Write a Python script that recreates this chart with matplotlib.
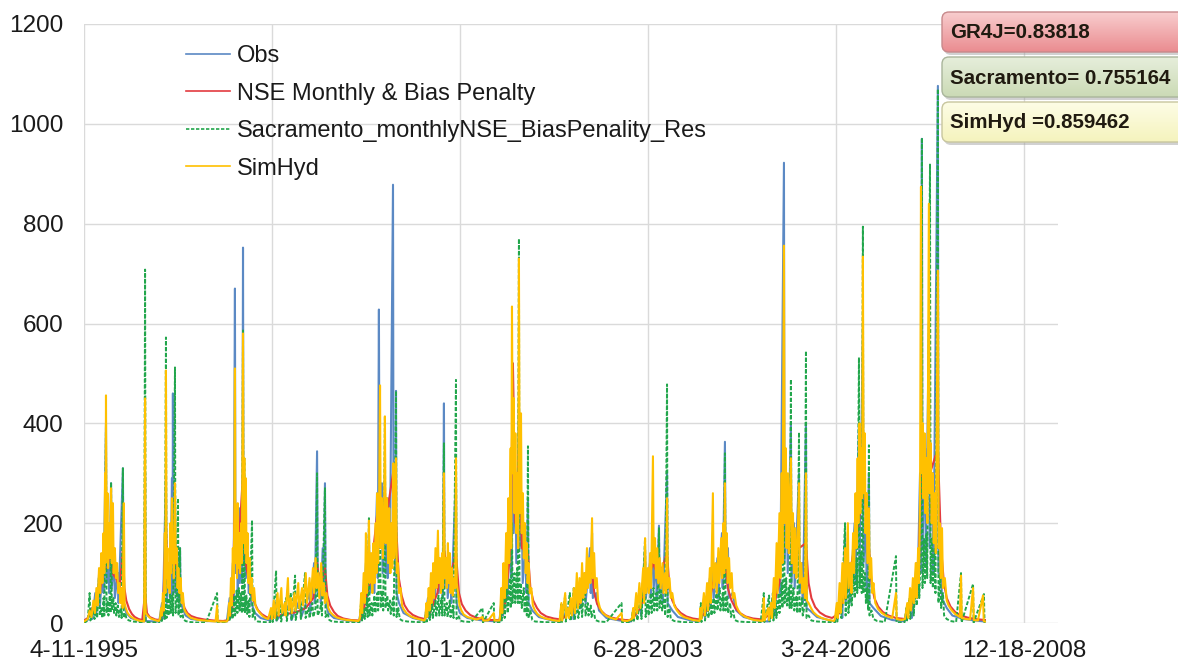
import numpy as np
import matplotlib
matplotlib.use("Agg")
import matplotlib.pyplot as plt
from matplotlib.patches import FancyBboxPatch
from matplotlib.colors import to_rgb

# ---------------------------------------------------------------------------
# Daily streamflow, days counted from 4-11-1995 (value nodes per series)
# ---------------------------------------------------------------------------
x_tick_days = [0, 1000, 2000, 3000, 4000, 5000]
x_tick_labels = ["4-11-1995", "1-5-1998", "10-1-2000", "6-28-2003", "3-24-2006", "12-18-2008"]
y_ticks = [0, 200, 400, 600, 800, 1000, 1200]

series_names = ["Obs", "NSE Monthly & Bias Penalty",
                "Sacramento_monthlyNSE_BiasPenality_Res", "SimHyd"]

nse_scores = ["GR4J=0.83818", "Sacramento= 0.755164", "SimHyd =0.859462"]

obs = [
    (0, 2), (20, 6), (40, 30), (44, 8), (60, 60), (64, 15), (80, 95), (84, 30), (100, 120), (104, 60),
    (117, 400), (120, 80), (130, 120), (134, 60), (144, 280), (148, 70), (160, 130), (164, 50),
    (180, 100), (184, 40), (207, 310), (211, 40), (225, 20), (250, 10), (290, 5), (320, 3),
    (325, 300), (328, 4), (380, 3), (400, 3),
    (415, 40), (419, 8), (436, 300), (440, 40), (456, 120), (460, 50), (468, 290), (471, 60),
    (473, 460), (476, 80), (484, 260), (487, 60), (496, 150), (500, 50), (511, 150), (514, 40),
    (525, 30), (540, 15), (570, 8), (650, 4), (760, 3),
    (775, 50), (779, 10), (792, 120), (796, 40), (803, 670), (806, 100), (814, 180), (818, 60),
    (825, 230), (829, 80), (838, 200), (842, 80), (846, 752), (849, 120), (857, 250), (861, 90),
    (872, 140), (876, 60), (886, 100), (890, 40), (910, 20), (940, 10), (990, 5),
    (1020, 40), (1024, 5), (1100, 40), (1104, 6), (1150, 50), (1154, 10), (1200, 60), (1204, 20),
    (1224, 120), (1228, 40), (1240, 344), (1244, 60), (1256, 100), (1260, 40), (1270, 150),
    (1274, 50), (1282, 280), (1286, 40), (1300, 20), (1330, 10), (1400, 5), (1465, 3),
    (1480, 50), (1484, 10), (1500, 120), (1504, 40), (1516, 180), (1520, 60), (1540, 150),
    (1544, 60), (1559, 260), (1563, 90), (1569, 628), (1573, 150), (1585, 280), (1589, 100),
    (1601, 300), (1605, 100), (1612, 250), (1616, 90), (1623, 250), (1627, 100), (1644, 878),
    (1647, 150), (1652, 300), (1656, 100), (1660, 465), (1663, 60), (1676, 40), (1700, 20),
    (1750, 10), (1812, 4),
    (1830, 50), (1834, 10), (1860, 100), (1864, 40), (1883, 150), (1887, 60), (1905, 120),
    (1909, 50), (1915, 440), (1918, 70), (1931, 130), (1935, 50), (1950, 110), (1954, 40),
    (1979, 300), (1982, 40), (2000, 20), (2040, 10), (2120, 5), (2210, 3),
    (2225, 60), (2229, 15), (2250, 150), (2254, 50), (2270, 250), (2274, 90), (2282, 520),
    (2286, 180), (2296, 300), (2300, 120), (2314, 450), (2318, 150), (2330, 200), (2334, 80),
    (2350, 150), (2354, 60), (2362, 250), (2365, 40), (2385, 25), (2420, 12), (2480, 6), (2532, 3),
    (2600, 40), (2604, 8), (2640, 80), (2644, 30), (2665, 100), (2669, 40), (2692, 150),
    (2696, 60), (2703, 180), (2707, 50), (2725, 60), (2740, 25), (2780, 10), (2850, 5), (2910, 3),
    (2960, 60), (2964, 15), (2985, 150), (2989, 50), (3011, 120), (3015, 50), (3027, 200),
    (3031, 70), (3043, 130), (3047, 50), (3059, 195), (3063, 60), (3075, 110), (3079, 40),
    (3102, 300), (3105, 40), (3130, 25), (3160, 12), (3220, 6), (3275, 3),
    (3300, 40), (3304, 10), (3330, 90), (3334, 30), (3346, 150), (3350, 50), (3370, 130),
    (3374, 50), (3394, 180), (3398, 70), (3410, 363), (3414, 80), (3426, 150), (3430, 50),
    (3450, 60), (3470, 25), (3510, 12), (3580, 5), (3640, 3),
    (3670, 60), (3674, 15), (3700, 180), (3704, 60), (3724, 922), (3727, 120), (3740, 250),
    (3744, 100), (3761, 400), (3764, 80), (3777, 200), (3781, 70), (3804, 300), (3807, 60),
    (3820, 120), (3824, 40), (3841, 400), (3844, 30), (3862, 25), (3900, 12), (3960, 6), (3995, 3),
    (4030, 50), (4034, 10), (4049, 180), (4052, 40), (4070, 120), (4074, 40), (4100, 200),
    (4104, 80), (4123, 400), (4126, 100), (4144, 600), (4147, 120), (4160, 200), (4164, 70),
    (4176, 300), (4179, 40), (4200, 30), (4240, 14), (4300, 6), (4365, 3),
    (4400, 40), (4404, 10), (4430, 120), (4434, 50), (4448, 300), (4452, 100), (4458, 970),
    (4461, 150), (4475, 350), (4479, 120), (4495, 600), (4499, 150), (4515, 300), (4519, 100),
    (4543, 1076), (4546, 100), (4560, 150), (4564, 50), (4590, 30), (4620, 15), (4680, 8),
    (4740, 5), (4793, 3),
]

gr4j = [
    (0, 5), (20, 10), (40, 25), (60, 40), (80, 60), (100, 90), (117, 180), (125, 110), (144, 160),
    (150, 100), (170, 90), (190, 70), (207, 150), (215, 70), (225, 45), (240, 28), (255, 18),
    (270, 12), (290, 8), (310, 6), (325, 60), (335, 20), (350, 12), (380, 7), (405, 6), (420, 20),
    (436, 200), (445, 80), (473, 180), (484, 160), (495, 90), (511, 80), (520, 50), (535, 30),
    (550, 20), (570, 14), (600, 10), (640, 7), (690, 5), (740, 4), (770, 6), (790, 30), (803, 250),
    (815, 100), (846, 300), (860, 120), (880, 80), (895, 55), (910, 38), (925, 26), (945, 18),
    (970, 12), (990, 10), (1030, 14), (1080, 18), (1130, 22), (1180, 30), (1220, 50), (1240, 120),
    (1255, 70), (1282, 110), (1295, 55), (1310, 35), (1330, 22), (1350, 14), (1380, 9), (1420, 6),
    (1465, 5), (1490, 30), (1520, 80), (1569, 250), (1585, 150), (1644, 300), (1660, 200),
    (1675, 90), (1690, 55), (1705, 36), (1725, 24), (1750, 16), (1780, 11), (1812, 8), (1840, 20),
    (1880, 60), (1915, 150), (1940, 80), (1979, 140), (1995, 60), (2010, 38), (2030, 25),
    (2055, 16), (2085, 11), (2120, 8), (2160, 6), (2213, 6), (2240, 40), (2270, 150), (2282, 520),
    (2295, 200), (2314, 350), (2330, 150), (2362, 140), (2375, 70), (2390, 45), (2410, 30),
    (2430, 20), (2460, 13), (2500, 9), (2540, 7), (2580, 20), (2640, 40), (2703, 100), (2715, 60),
    (2730, 38), (2750, 25), (2775, 16), (2805, 11), (2840, 8), (2880, 6), (2915, 6), (2960, 30),
    (3027, 120), (3060, 90), (3102, 140), (3115, 70), (3130, 45), (3150, 30), (3175, 20),
    (3205, 13), (3240, 9), (3277, 7), (3320, 30), (3346, 80), (3410, 130), (3425, 70), (3445, 45),
    (3465, 30), (3490, 20), (3520, 13), (3560, 9), (3610, 7), (3660, 20), (3700, 80), (3724, 300),
    (3761, 200), (3804, 150), (3841, 160), (3855, 80), (3870, 50), (3890, 32), (3915, 21),
    (3945, 14), (3980, 10), (4020, 20), (4064, 80), (4123, 200), (4144, 300), (4176, 150),
    (4190, 80), (4205, 50), (4225, 33), (4250, 22), (4280, 15), (4320, 10), (4368, 8), (4400, 30),
    (4440, 100), (4458, 350), (4501, 300), (4543, 350), (4560, 150), (4575, 80), (4590, 50),
    (4610, 33), (4635, 22), (4665, 15), (4700, 11), (4740, 8), (4793, 6),
]

sacramento = [
    (0, 0), (20, 5), (30, 60), (34, 5), (50, 25), (56, 8), (66, 40), (70, 10), (80, 100), (84, 15),
    (92, 30), (98, 10), (104, 50), (108, 15), (117, 400), (120, 20), (126, 45), (130, 15),
    (137, 55), (141, 20), (144, 280), (148, 25), (156, 50), (160, 20), (168, 40), (172, 15),
    (180, 35), (186, 12), (196, 30), (200, 10), (207, 310), (211, 10), (220, 20), (226, 8),
    (240, 5), (260, 3), (290, 2), (320, 1), (325, 708), (328, 2), (360, 1), (400, 1),
    (410, 20), (414, 4), (425, 40), (430, 8), (436, 572), (439, 10), (446, 50), (450, 15),
    (458, 60), (462, 20), (470, 55), (474, 15), (484, 512), (487, 20), (494, 45), (500, 250),
    (503, 15), (511, 150), (514, 12), (522, 30), (528, 8), (540, 4), (560, 2), (600, 1), (650, 1),
    (708, 60), (711, 1), (760, 1),
    (770, 20), (774, 4), (786, 40), (790, 8), (800, 55), (804, 15), (812, 65), (816, 20), (824, 70),
    (828, 25), (836, 60), (840, 20), (846, 586), (849, 25), (853, 330), (856, 20), (864, 55),
    (868, 18), (876, 45), (880, 12), (894, 206), (897, 10), (905, 25), (912, 6), (925, 3),
    (950, 2), (990, 1),
    (1000, 30), (1004, 2), (1022, 105), (1025, 3), (1045, 40), (1049, 3), (1075, 50), (1079, 4),
    (1100, 60), (1104, 5), (1123, 95), (1126, 6), (1150, 45), (1154, 8), (1176, 100), (1179, 10),
    (1195, 30), (1200, 10), (1215, 40), (1220, 12), (1232, 30), (1240, 300), (1243, 15),
    (1255, 25), (1262, 40), (1266, 15), (1282, 270), (1285, 12), (1295, 20), (1305, 6),
    (1320, 3), (1360, 2), (1420, 1), (1465, 1),
    (1475, 45), (1479, 5), (1490, 30), (1494, 8), (1505, 50), (1509, 12), (1516, 210), (1519, 15),
    (1530, 40), (1534, 15), (1545, 55), (1550, 20), (1560, 60), (1565, 25), (1575, 300),
    (1578, 30), (1588, 65), (1592, 25), (1601, 415), (1604, 30), (1614, 55), (1618, 25),
    (1628, 45), (1632, 18), (1644, 50), (1648, 15), (1660, 465), (1663, 12), (1672, 30),
    (1680, 8), (1692, 5), (1720, 3), (1770, 2), (1812, 1),
    (1820, 25), (1824, 3), (1836, 35), (1840, 6), (1852, 40), (1856, 10), (1870, 45), (1874, 12),
    (1886, 55), (1890, 15), (1902, 50), (1906, 15), (1915, 360), (1918, 15), (1930, 40),
    (1934, 12), (1946, 45), (1950, 12), (1962, 35), (1966, 10), (1979, 487), (1982, 8),
    (1992, 15), (2000, 5), (2020, 3), (2060, 2), (2120, 30), (2123, 1), (2180, 40), (2183, 1),
    (2210, 1),
    (2218, 30), (2222, 5), (2234, 50), (2238, 10), (2250, 70), (2254, 20), (2266, 90), (2270, 30),
    (2277, 200), (2280, 40), (2290, 100), (2294, 40), (2304, 110), (2308, 40), (2314, 770),
    (2317, 40), (2325, 80), (2329, 30), (2340, 70), (2344, 20), (2352, 55), (2356, 15),
    (2362, 354), (2365, 10), (2375, 25), (2385, 6), (2400, 3), (2440, 2), (2500, 1), (2532, 1),
    (2540, 40), (2543, 2), (2560, 55), (2563, 3), (2585, 60), (2588, 4), (2606, 70), (2610, 6),
    (2625, 40), (2630, 10), (2645, 50), (2650, 12), (2665, 100), (2668, 15), (2680, 40),
    (2684, 15), (2696, 35), (2700, 12), (2712, 25), (2720, 6), (2740, 3), (2780, 2), (2860, 40),
    (2863, 1), (2910, 1),
    (2920, 25), (2924, 2), (2940, 50), (2944, 5), (2962, 60), (2966, 8), (2985, 170), (2988, 12),
    (3000, 45), (3004, 15), (3016, 60), (3020, 20), (3030, 70), (3034, 25), (3045, 60),
    (3050, 25), (3059, 190), (3062, 30), (3072, 65), (3076, 25), (3088, 50), (3092, 15),
    (3102, 478), (3105, 12), (3115, 30), (3122, 8), (3140, 4), (3180, 2), (3240, 1), (3275, 1),
    (3282, 40), (3285, 2), (3300, 55), (3304, 5), (3318, 45), (3322, 10), (3334, 60), (3338, 15),
    (3350, 50), (3354, 20), (3366, 65), (3370, 25), (3382, 70), (3386, 25), (3398, 60),
    (3402, 25), (3410, 340), (3413, 25), (3422, 55), (3426, 20), (3438, 40), (3442, 12),
    (3454, 25), (3462, 6), (3480, 3), (3520, 2), (3600, 1),
    (3617, 60), (3620, 2), (3645, 55), (3648, 3), (3665, 60), (3668, 5), (3680, 45), (3684, 10),
    (3696, 60), (3700, 20), (3712, 80), (3716, 30), (3724, 400), (3727, 40), (3736, 90),
    (3740, 35), (3750, 70), (3754, 30), (3761, 488), (3764, 30), (3775, 70), (3779, 25),
    (3790, 55), (3795, 20), (3804, 382), (3807, 20), (3820, 50), (3824, 15), (3834, 35),
    (3841, 545), (3844, 10), (3855, 15), (3870, 5), (3900, 3), (3950, 2), (3995, 1),
    (4005, 30), (4008, 3), (4025, 60), (4029, 10), (4049, 200), (4052, 15), (4064, 110),
    (4067, 20), (4080, 80), (4084, 35), (4096, 110), (4100, 50), (4110, 130), (4114, 60),
    (4123, 532), (4126, 70), (4134, 140), (4138, 60), (4144, 794), (4147, 60), (4156, 100),
    (4160, 40), (4168, 70), (4172, 25), (4176, 356), (4179, 15), (4190, 25), (4200, 8),
    (4220, 4), (4260, 2), (4320, 134), (4323, 1), (4365, 1),
    (4375, 30), (4378, 3), (4392, 50), (4396, 8), (4410, 70), (4414, 15), (4426, 90), (4430, 35),
    (4440, 120), (4444, 50), (4452, 160), (4458, 972), (4461, 70), (4470, 170), (4474, 80),
    (4482, 180), (4486, 90), (4501, 920), (4504, 80), (4512, 170), (4516, 70), (4526, 150),
    (4530, 60), (4543, 1070), (4546, 40), (4556, 100), (4560, 30), (4570, 60), (4576, 15),
    (4590, 8), (4610, 4), (4640, 2), (4666, 100), (4669, 1), (4730, 78), (4733, 1), (4788, 58),
    (4791, 1), (4793, 0),
]

simhyd = [
    (0, 3), (20, 8), (30, 25), (40, 12), (50, 45), (58, 20), (66, 70), (72, 35), (80, 110), (86, 60),
    (92, 140), (98, 80), (104, 180), (108, 100), (112, 300), (114, 120), (117, 456), (120, 150),
    (125, 260), (128, 110), (133, 200), (137, 130), (144, 270), (148, 120), (154, 240), (158, 100),
    (164, 150), (170, 90), (176, 120), (182, 60), (188, 80), (194, 40), (200, 70), (206, 30),
    (212, 240), (216, 40), (222, 30), (232, 20), (245, 14), (260, 10), (275, 7), (290, 5),
    (305, 4), (320, 3), (325, 450), (328, 20), (340, 14), (355, 9), (370, 7), (385, 5), (398, 4),
    (405, 10), (410, 30), (414, 15), (420, 60), (425, 25), (430, 180), (433, 60), (436, 506),
    (439, 90), (444, 150), (448, 70), (452, 120), (456, 60), (460, 200), (463, 100), (468, 250),
    (471, 120), (475, 170), (478, 90), (484, 280), (488, 120), (494, 150), (498, 70), (502, 110),
    (508, 60), (514, 90), (520, 40), (526, 60), (532, 30), (540, 22), (555, 15), (570, 10),
    (590, 8), (610, 6), (640, 5), (670, 4), (700, 3), (708, 35), (712, 3), (730, 3), (760, 3),
    (766, 8), (772, 40), (776, 15), (782, 90), (786, 35), (792, 150), (796, 60), (800, 230),
    (803, 510), (806, 120), (810, 190), (814, 90), (818, 240), (822, 110), (826, 180), (830, 100),
    (836, 200), (840, 120), (846, 580), (849, 160), (853, 330), (857, 140), (861, 290), (865, 120),
    (870, 180), (875, 80), (880, 130), (886, 60), (892, 90), (898, 45), (905, 70), (912, 35),
    (920, 28), (935, 20), (950, 14), (965, 10), (980, 8),
    (995, 30), (1000, 8), (1010, 45), (1015, 10), (1030, 60), (1035, 15), (1050, 70), (1055, 20),
    (1068, 40), (1072, 15), (1085, 90), (1090, 25), (1100, 50), (1106, 20), (1120, 60), (1125, 25),
    (1140, 80), (1145, 30), (1160, 70), (1166, 35), (1180, 100), (1186, 40), (1200, 90),
    (1206, 45), (1218, 110), (1224, 60), (1232, 130), (1238, 70), (1246, 100), (1252, 50),
    (1262, 120), (1268, 55), (1276, 80), (1282, 40), (1290, 60), (1300, 30), (1310, 22),
    (1325, 16), (1345, 11), (1370, 8), (1400, 6), (1430, 5), (1460, 4),
    (1468, 10), (1475, 60), (1480, 20), (1488, 100), (1494, 40), (1500, 180), (1505, 60),
    (1512, 120), (1516, 205), (1520, 80), (1528, 140), (1534, 60), (1540, 160), (1546, 80),
    (1552, 200), (1556, 100), (1560, 260), (1565, 120), (1570, 230), (1575, 476), (1579, 150),
    (1585, 250), (1590, 130), (1596, 200), (1601, 414), (1605, 160), (1612, 250), (1618, 120),
    (1624, 230), (1630, 100), (1636, 200), (1640, 110), (1646, 320), (1650, 130), (1656, 180),
    (1660, 330), (1664, 100), (1670, 120), (1676, 60), (1684, 70), (1692, 35), (1700, 28),
    (1715, 20), (1735, 14), (1760, 10), (1790, 7), (1810, 5),
    (1815, 8), (1822, 40), (1826, 12), (1834, 70), (1838, 25), (1846, 100), (1850, 40),
    (1858, 120), (1862, 50), (1870, 150), (1875, 70), (1883, 185), (1887, 80), (1894, 130),
    (1899, 60), (1905, 140), (1910, 70), (1915, 300), (1919, 90), (1925, 130), (1930, 70),
    (1936, 160), (1940, 80), (1946, 140), (1950, 60), (1958, 110), (1962, 55), (1970, 90),
    (1975, 70), (1979, 330), (1983, 80), (1990, 60), (1998, 35), (2008, 25), (2020, 17),
    (2040, 12), (2065, 9), (2090, 7), (2120, 12), (2124, 5), (2150, 5), (2180, 20), (2184, 5),
    (2210, 5),
    (2213, 10), (2220, 70), (2225, 20), (2232, 120), (2238, 50), (2246, 180), (2250, 70),
    (2258, 250), (2262, 120), (2270, 350), (2273, 150), (2277, 634), (2281, 300), (2286, 450),
    (2290, 220), (2295, 380), (2300, 180), (2306, 300), (2310, 150), (2314, 730), (2318, 220),
    (2325, 420), (2329, 180), (2335, 260), (2340, 130), (2346, 200), (2350, 100), (2356, 160),
    (2360, 80), (2366, 120), (2372, 60), (2380, 70), (2388, 35), (2398, 26), (2412, 18),
    (2430, 13), (2455, 9), (2480, 7), (2505, 5), (2530, 4),
    (2540, 40), (2544, 5), (2560, 60), (2565, 10), (2575, 30), (2580, 10), (2590, 50), (2596, 15),
    (2606, 70), (2612, 20), (2622, 100), (2628, 30), (2636, 90), (2642, 40), (2650, 120),
    (2656, 50), (2662, 100), (2668, 60), (2676, 150), (2681, 70), (2688, 130), (2694, 80),
    (2703, 210), (2707, 90), (2714, 140), (2720, 70), (2728, 90), (2735, 45), (2745, 30),
    (2760, 20), (2780, 14), (2805, 10), (2830, 7), (2860, 20), (2864, 5), (2890, 4),
    (2915, 8), (2922, 30), (2926, 10), (2938, 60), (2943, 20), (2955, 80), (2960, 30), (2975, 110),
    (2980, 40), (2985, 170), (2990, 60), (3000, 110), (3005, 60), (3012, 140), (3017, 70),
    (3027, 334), (3031, 120), (3038, 170), (3043, 90), (3050, 150), (3055, 80), (3063, 130),
    (3068, 70), (3078, 120), (3083, 60), (3092, 100), (3097, 60), (3102, 250), (3106, 70),
    (3115, 90), (3122, 50), (3130, 60), (3140, 35), (3155, 25), (3170, 18), (3190, 12),
    (3215, 9), (3240, 6), (3260, 5), (3275, 4),
    (3280, 30), (3284, 8), (3298, 60), (3303, 15), (3315, 80), (3320, 25), (3330, 110), (3335, 40),
    (3346, 260), (3350, 70), (3360, 120), (3366, 60), (3375, 150), (3380, 80), (3390, 170),
    (3395, 90), (3402, 200), (3406, 100), (3410, 280), (3414, 110), (3420, 180), (3425, 80),
    (3432, 130), (3438, 70), (3446, 100), (3452, 50), (3460, 60), (3470, 35), (3482, 25),
    (3495, 18), (3515, 13), (3540, 9), (3565, 6), (3590, 5), (3610, 4),
    (3617, 50), (3621, 5), (3640, 30), (3644, 6), (3655, 40), (3660, 10), (3670, 90), (3675, 30),
    (3685, 160), (3690, 60), (3700, 220), (3705, 90), (3712, 300), (3716, 120), (3724, 756),
    (3728, 200), (3734, 350), (3738, 150), (3745, 300), (3750, 140), (3756, 260), (3761, 330),
    (3766, 120), (3772, 220), (3777, 100), (3784, 190), (3790, 90), (3796, 160), (3804, 280),
    (3808, 80), (3816, 120), (3822, 60), (3830, 90), (3836, 50), (3841, 300), (3846, 45),
    (3855, 40), (3868, 30), (3880, 22), (3900, 15), (3925, 10), (3950, 7), (3975, 5), (3990, 4),
    (3995, 8), (4005, 40), (4010, 10), (4020, 80), (4025, 20), (4035, 120), (4040, 40),
    (4049, 150), (4053, 50), (4064, 200), (4068, 70), (4078, 120), (4083, 60), (4092, 180),
    (4097, 100), (4105, 260), (4110, 150), (4116, 330), (4120, 200), (4126, 400), (4130, 220),
    (4136, 350), (4140, 250), (4144, 734), (4148, 260), (4154, 380), (4158, 180), (4164, 260),
    (4168, 120), (4176, 230), (4180, 90), (4188, 130), (4194, 60), (4200, 80), (4210, 40),
    (4225, 28), (4245, 20), (4270, 14), (4300, 10), (4320, 60), (4324, 8), (4350, 6),
    (4368, 8), (4380, 40), (4385, 10), (4395, 70), (4400, 25), (4410, 90), (4415, 40),
    (4425, 120), (4430, 50), (4438, 150), (4442, 80), (4448, 250), (4453, 874), (4457, 300),
    (4462, 400), (4466, 250), (4472, 380), (4476, 220), (4482, 330), (4487, 200), (4495, 840),
    (4499, 260), (4505, 360), (4510, 200), (4516, 300), (4521, 160), (4527, 260), (4532, 140),
    (4543, 706), (4547, 150), (4553, 200), (4558, 90), (4565, 190), (4570, 70), (4580, 90),
    (4590, 45), (4600, 35), (4615, 26), (4635, 18), (4660, 12), (4666, 95), (4670, 10),
    (4690, 8), (4714, 7), (4730, 70), (4734, 6), (4756, 5), (4783, 55), (4787, 4), (4793, 3),
]

# ---------------------------------------------------------------------------
plt.rcParams["font.family"] = ["Liberation Sans", "DejaVu Sans"]

W, H = 1178, 663
fig = plt.figure(figsize=(W / 100, H / 100), dpi=100)
fig.patch.set_facecolor("white")

ax = fig.add_axes([84 / W, 1 - 623 / H, (1058 - 84) / W, (623 - 24) / H])


def split(nodes):
    nodes = sorted(nodes)
    return [d for d, _ in nodes], [v for _, v in nodes]


styles = [
    (obs, dict(color="#5b89c4", lw=1.5, ls="-")),
    (gr4j, dict(color="#e33b3f", lw=1.5, ls="-")),
    (sacramento, dict(color="#22a64c", lw=1.4, ls=(0, (2.0, 1.0)))),
    (simhyd, dict(color="#ffc000", lw=1.5, ls="-")),
]
handles = []
for (nodes, st), name in zip(styles, series_names):
    d, v = split(nodes)
    ln, = ax.plot(d, v, label=name, zorder=3, **st)
    handles.append(ln)

ax.set_xlim(0, 5182)
ax.set_ylim(0, 1200)
ax.set_xticks(x_tick_days)
ax.set_xticklabels(x_tick_labels)
ax.set_yticks(y_ticks)
ax.grid(True, color="#dadada", lw=1.0, zorder=0)
ax.set_axisbelow(True)
for s in ax.spines.values():
    s.set_visible(False)
ax.tick_params(axis="both", length=0, labelsize=17.5, colors="#1a1a1a")
ax.tick_params(axis="x", pad=12)
ax.tick_params(axis="y", pad=15)

leg = ax.legend(handles=handles, loc="upper left",
                bbox_to_anchor=(186 / W, 1 - 45 / H), bbox_transform=fig.transFigure,
                frameon=False, borderpad=0, borderaxespad=0, fontsize=17,
                handlelength=1.85, handletextpad=0.3, labelspacing=0.66)
for t, h in zip(leg.get_texts(), leg.legend_handles):
    t.set_color("#1a1a1a")
    h.set_linewidth(1.2)

# Score boxes in pixel coordinates over the whole figure
ov = fig.add_axes([0, 0, 1, 1], zorder=10)
ov.set_xlim(0, W)
ov.set_ylim(H, 0)
ov.axis("off")

box_styles = [
    ("#f8cdce", "#ea8c90", "#c7898b"),
    ("#e6eedb", "#cbdab5", "#a9b59b"),
    ("#fdfde6", "#f5f3bd", "#c8c69e"),
]
box_tops = [12, 57, 102]
bx0, bx1, bh = 942, 1200, 40
for label, top, (c_top, c_bot, c_edge) in zip(nse_scores, box_tops, box_styles):
    shadow = FancyBboxPatch((bx0 + 2, top + 3), bx1 - bx0, bh,
                            boxstyle="round,pad=0,rounding_size=7",
                            fc="#9a9a9a", ec="none", alpha=0.45)
    ov.add_patch(shadow)
    patch = FancyBboxPatch((bx0, top), bx1 - bx0, bh,
                           boxstyle="round,pad=0,rounding_size=7",
                           fc="none", ec=c_edge, lw=1.0, zorder=3)
    ov.add_patch(patch)
    grad = np.linspace(0, 1, 64)[:, None, None]
    img = (1 - grad) * np.array(to_rgb(c_top)) + grad * np.array(to_rgb(c_bot))
    im = ov.imshow(img, extent=(bx0, bx1, top + bh, top), origin="upper",
                   aspect="auto", zorder=2)
    im.set_clip_path(patch)
    ov.text(bx0 + 8, top + bh / 2 + 1, label, fontsize=14.8, fontweight="bold",
            color="#201a10", va="center", ha="left", zorder=4)
ov.set_xlim(0, W)
ov.set_ylim(H, 0)

fig.savefig("out.png", dpi=100, facecolor="white")
